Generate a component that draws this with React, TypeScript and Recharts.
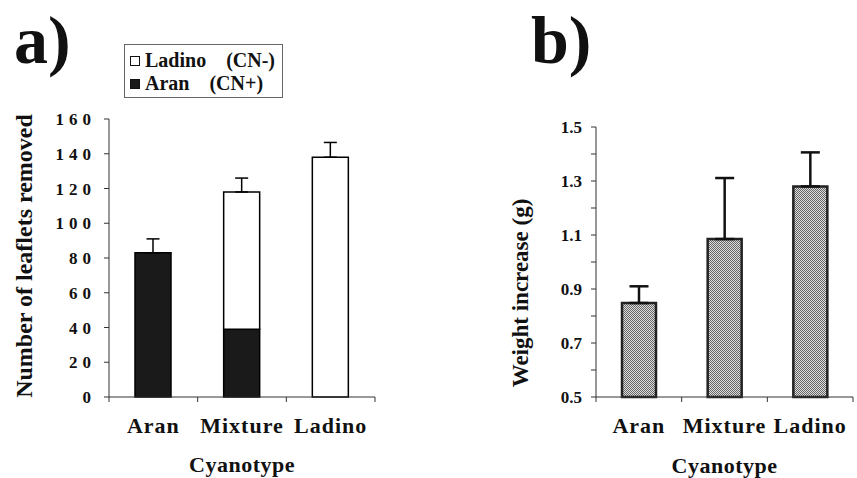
import { BarChart, Bar, XAxis, YAxis, ErrorBar, Legend } from "recharts";

const serif = "'Liberation Serif', 'Times New Roman', serif";

const categories = ["Aran", "Mixture", "Ladino"];

// a) leaflets removed, stacked by cyanotype
const aranLeaflets = [83, 39, 0];
const ladinoLeaflets = [0, 79, 138];
const aranErr = [8, null, null];
const ladinoErr = [null, 8, 8.5];
const leafletTicks = [0, 20, 40, 60, 80, 100, 120, 140, 160];
const seriesNames = ["Aran", "Ladino"];
const seriesTags = ["(CN+)", "(CN-)"];

// b) weight increase
const weightGain = [0.848, 1.085, 1.28];
const weightErr = [0.062, 0.226, 0.126];
const weightTicks = [0.5, 0.6, 0.7, 0.8, 0.9, 1.0, 1.1, 1.2, 1.3, 1.4, 1.5];
const weightLabels = ["0.5", "0.7", "0.9", "1.1", "1.3", "1.5"];

const panelLetters = ["a)", "b)"];
const xTitle = "Cyanotype";

const leafletData = categories.map((c, i) => ({
  cyanotype: c,
  Aran: aranLeaflets[i],
  Ladino: ladinoLeaflets[i],
  errA: aranErr[i] == null ? null : [0, aranErr[i]],
  errL: ladinoErr[i] == null ? null : [0, ladinoErr[i]],
}));

const weightData = categories.map((c, i) => ({
  cyanotype: c,
  gain: weightGain[i],
  err: [0, weightErr[i]],
}));

const tickFont = { fill: "#111", fontSize: 17, fontWeight: "bold", fontFamily: serif };
const catFont = { fill: "#111", fontSize: 22, fontWeight: "bold", fontFamily: serif, letterSpacing: 1 };

// chart frames
const sizeA = { w: 430, h: 478, left: 109, right: 55, top: 119, bottom: 80 };
const sizeB = { w: 427, h: 478, left: 166, right: 4, top: 127, bottom: 80 };

// category label plus tick marks at the band edges (the original marks boundaries, not centres)
function CategoryTick(props: any) {
  const { x, y, payload, index, plotWidth } = props;
  const half = plotWidth / categories.length / 2;
  return (
    <g>
      {index === 0 && <line x1={x - half} x2={x - half} y1={y} y2={y + 5} stroke="#333" />}
      <line x1={x + half} x2={x + half} y1={y} y2={y + 5} stroke="#333" />
      <text x={x} y={y + 36} textAnchor="middle" style={catFont}>
        {payload.value}
      </text>
    </g>
  );
}

function LegendBox({ payload }: any) {
  const items = [...(payload || [])].reverse();
  return (
    <div
      style={{
        border: "1px solid #666",
        boxSizing: "border-box",
        width: 159,
        padding: "4px 5px 2px 5px",
        fontFamily: serif,
        fontWeight: "bold",
        fontSize: 20,
        lineHeight: "23px",
        color: "#111",
        background: "#fff",
      }}
    >
      {items.map((p: any) => {
        const idx = seriesNames.indexOf(p.value);
        return (
          <div key={p.value} style={{ display: "flex", alignItems: "center", whiteSpace: "pre" }}>
            <span
              style={{
                display: "inline-block",
                width: 10,
                height: 10,
                boxSizing: "border-box",
                border: "1.5px solid #111",
                background: p.value === "Aran" ? "#1a1a1a" : "#fff",
                marginRight: 5,
              }}
            />
            <span>{p.value + "    " + seriesTags[idx]}</span>
          </div>
        );
      })}
    </div>
  );
}

function LeafletChart() {
  return (
    <BarChart
      width={sizeA.w}
      height={sizeA.h}
      data={leafletData}
      margin={{ top: sizeA.top, right: sizeA.right, bottom: sizeA.bottom, left: 0 }}
      barSize={36}
    >
      <XAxis
        dataKey="cyanotype"
        height={1}
        stroke="#333"
        tickLine={false}
        tickSize={0}
        tickMargin={0}
        interval={0}
        tick={<CategoryTick plotWidth={sizeA.w - sizeA.left - sizeA.right} />}
        label={{ value: xTitle, position: "bottom", offset: 58, style: { ...catFont, letterSpacing: 0.5 } }}
      />
      <YAxis
        domain={[0, 160]}
        ticks={leafletTicks}
        interval={0}
        width={sizeA.left}
        tickSize={5}
        tickMargin={8}
        stroke="#333"
        tick={{ ...tickFont, letterSpacing: 5 }}
        label={{
          content: () => (
            <text
              transform="translate(32,256) rotate(-90)"
              textAnchor="middle"
              fontFamily={serif}
              fontWeight="bold"
              fontSize={24}
              fill="#111"
            >
              Number of leaflets removed
            </text>
          ),
        }}
      />
      <Legend
        layout="vertical"
        align="center"
        verticalAlign="middle"
        wrapperStyle={{ left: 124, top: 44, width: 159 }}
        content={(props: any) => <LegendBox {...props} />}
      />
      <Bar dataKey="Aran" name="Aran" stackId="s" fill="#1a1a1a" stroke="#000" strokeWidth={1.5} isAnimationActive={false}>
        <ErrorBar dataKey="errA" direction="y" width={6.5} stroke="#000" strokeWidth={1.5} />
      </Bar>
      <Bar dataKey="Ladino" name="Ladino" stackId="s" fill="#fff" stroke="#000" strokeWidth={1.5} isAnimationActive={false}>
        <ErrorBar dataKey="errL" direction="y" width={6.5} stroke="#000" strokeWidth={1.5} />
      </Bar>
    </BarChart>
  );
}

function WeightChart() {
  return (
    <BarChart
      width={sizeB.w}
      height={sizeB.h}
      data={weightData}
      margin={{ top: sizeB.top, right: sizeB.right, bottom: sizeB.bottom, left: 0 }}
      barSize={34}
    >
      <defs>
        <pattern id="stipple" width="2" height="2" patternUnits="userSpaceOnUse">
          <rect width="2" height="2" fill="#dedede" />
          <rect width="1" height="1" fill="#666" />
          <rect x="1" y="1" width="1" height="1" fill="#666" />
        </pattern>
      </defs>
      <XAxis
        dataKey="cyanotype"
        height={1}
        stroke="#333"
        tickLine={false}
        tickSize={0}
        tickMargin={0}
        interval={0}
        tick={<CategoryTick plotWidth={sizeB.w - sizeB.left - sizeB.right} />}
        label={{ value: xTitle, position: "bottom", offset: 59, style: { ...catFont, letterSpacing: 0.5 } }}
      />
      <YAxis
        domain={[0.5, 1.5]}
        ticks={weightTicks}
        interval={0}
        width={sizeB.left}
        tickSize={5}
        tickMargin={9}
        stroke="#333"
        tick={tickFont}
        tickFormatter={(v: number) => (weightLabels.includes(v.toFixed(1)) ? v.toFixed(1) : "")}
        label={{
          content: () => (
            <text
              transform="translate(98,293) rotate(-90)"
              textAnchor="middle"
              fontFamily={serif}
              fontWeight="bold"
              fontSize={23}
              fill="#111"
            >
              Weight increase (g)
            </text>
          ),
        }}
      />
      <Bar dataKey="gain" fill="url(#stipple)" stroke="#222" strokeWidth={2.5} isAnimationActive={false}>
        <ErrorBar dataKey="err" direction="y" width={9.5} stroke="#111" strokeWidth={2.5} />
      </Bar>
    </BarChart>
  );
}

export default function App() {
  return (
    <div style={{ position: "absolute", left: 0, top: 0, width: 857, height: 478, background: "#fff", overflow: "hidden" }}>
      <div style={{ position: "absolute", left: 0, top: 0 }}>
        <LeafletChart />
      </div>
      <div style={{ position: "absolute", left: 430, top: 0 }}>
        <WeightChart />
      </div>
      <svg width={857} height={478} style={{ position: "absolute", left: 0, top: 0, pointerEvents: "none" }}>
        <text x={14} y={63} fontFamily={serif} fontWeight="bold" fontSize={68} fill="#111">
          {panelLetters[0]}
        </text>
        <text x={531} y={63} fontFamily={serif} fontWeight="bold" fontSize={68} fill="#111">
          {panelLetters[1]}
        </text>
      </svg>
    </div>
  );
}
